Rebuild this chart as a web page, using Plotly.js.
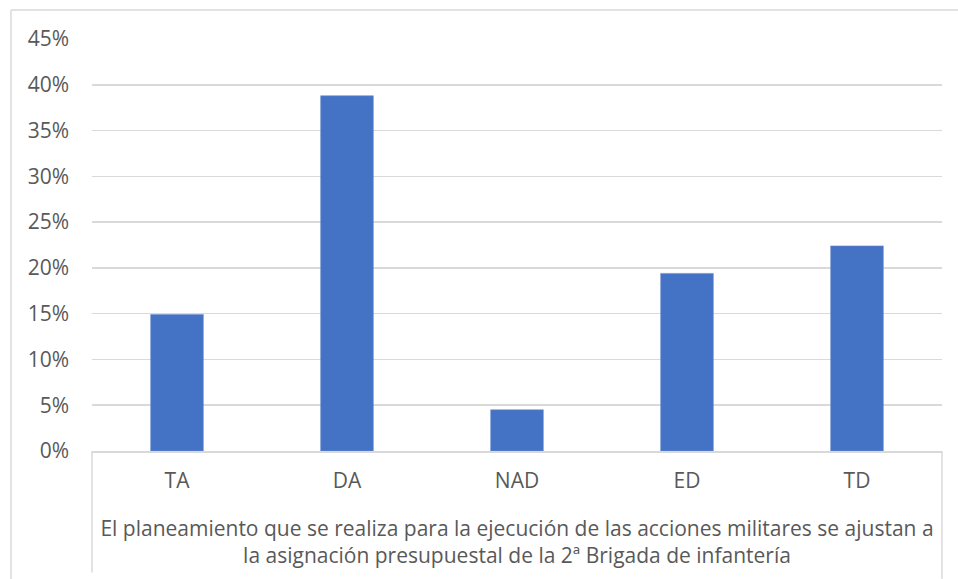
<!DOCTYPE html>
<html>
<head>
<meta charset="utf-8">
<script src="https://cdn.plot.ly/plotly-3.0.1.min.js"></script>
<style>html,body{margin:0;padding:0;background:#fff;}#chart{width:958px;height:579px;}</style>
</head>
<body>
<div id="chart"></div>
<script>
const categories = ['TA', 'DA', 'NAD', 'ED', 'TD'];
const values = [0.149, 0.388, 0.045, 0.194, 0.224];
const yTicks = [0, 0.05, 0.10, 0.15, 0.20, 0.25, 0.30, 0.35, 0.40, 0.45];
const yTickLabels = ['0%', '5%', '10%', '15%', '20%', '25%', '30%', '35%', '40%', '45%'];
const axisTitle = 'El planeamiento que se realiza para la ejecución de las acciones militares se ajustan a<br>la asignación presupuestal de la 2ª Brigada de infantería';

const textColor = '#595959';
const gridColor = '#d9d9d9';
const fontFamily = '"Open Sans", "Noto Sans", sans-serif';

const trace = {
  type: 'bar',
  x: categories,
  y: values,
  marker: {color: '#4472C4', line: {color: '#6f8fd0', width: 0.6}},
  width: 0.31,
  hoverinfo: 'x+y'
};

const layout = {
  width: 958,
  height: 579,
  margin: {l: 92, r: 16, t: 39, b: 128},
  paper_bgcolor: '#ffffff',
  plot_bgcolor: '#ffffff',
  showlegend: false,
  font: {family: fontFamily, color: textColor, size: 21},
  xaxis: {
    type: 'category',
    showgrid: false,
    showline: true,
    linecolor: gridColor,
    linewidth: 1.5,
    ticks: '',
    ticklabelstandoff: 10,
    tickfont: {size: 21, color: textColor, family: fontFamily},
    automargin: false,
    title: {text: axisTitle, font: {size: 21, color: textColor, family: fontFamily}, standoff: 28}
  },
  yaxis: {
    range: [0, 0.45],
    tickvals: yTicks,
    ticktext: yTickLabels,
    showgrid: true,
    gridcolor: gridColor,
    gridwidth: 1.5,
    zeroline: false,
    showline: false,
    ticks: '',
    ticklabelstandoff: 22,
    tickfont: {size: 21, color: textColor, family: fontFamily},
    automargin: false
  },
  shapes: [
    {type: 'line', xref: 'paper', yref: 'paper', x0: 0, x1: 0, y0: 0, y1: -0.295, line: {color: gridColor, width: 1.5}},
    {type: 'line', xref: 'paper', yref: 'paper', x0: 1, x1: 1, y0: 0, y1: -0.31, line: {color: gridColor, width: 1.5}},
    {type: 'line', xref: 'paper', yref: 'paper', x0: -0.0953, x1: -0.0953, y0: 1.0704, y1: -0.35, line: {color: gridColor, width: 1.5}},
    {type: 'line', xref: 'paper', yref: 'paper', x0: -0.0953, x1: 1.1, y0: 1.0704, y1: 1.0704, line: {color: gridColor, width: 1.5}}
  ]
};

Plotly.newPlot('chart', [trace], layout, {displayModeBar: false, staticPlot: true});
</script>
</body>
</html>
